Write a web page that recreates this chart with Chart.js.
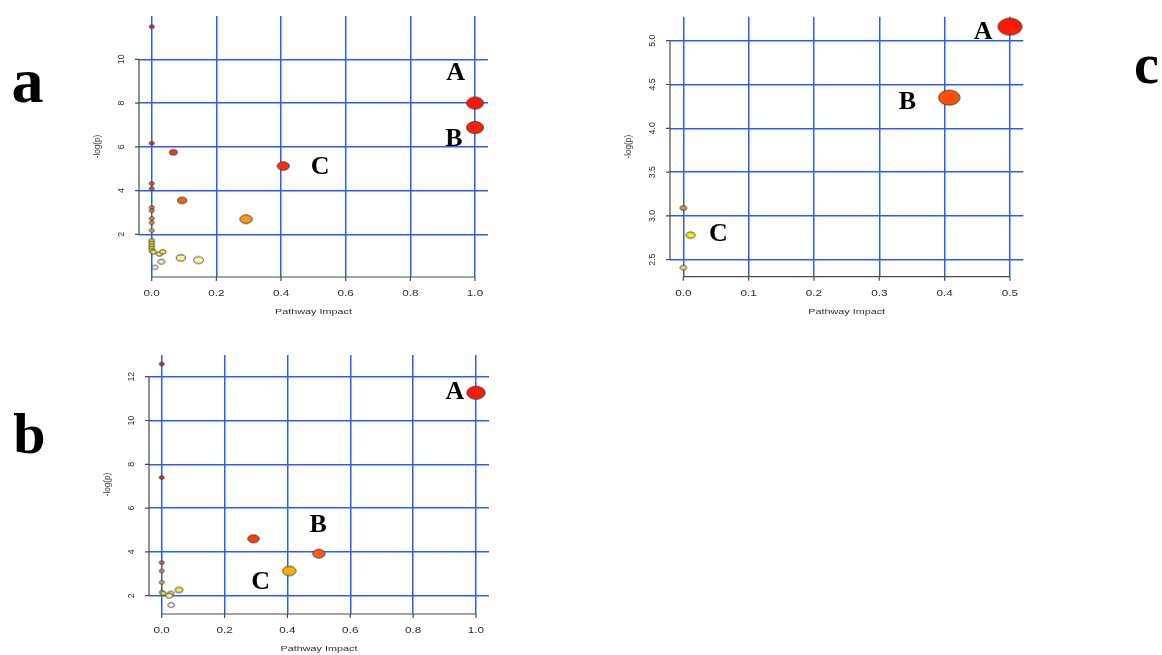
<!DOCTYPE html>
<html>
<head>
<meta charset="utf-8">
<title>Pathway impact bubble plots</title>
<script src="https://cdn.jsdelivr.net/npm/chart.js@4.4.0/dist/chart.umd.min.js"></script>
<style>
  html, body { margin: 0; padding: 0; background: #ffffff; }
  #wrap { position: relative; width: 1162px; height: 655px; overflow: hidden; background: #ffffff; }
  #wrap canvas { position: absolute; left: 0; top: 0; }
</style>
</head>
<body>
<div id="wrap">
  <canvas id="chartA" width="1162" height="655"></canvas>
  <canvas id="chartB" width="1162" height="655"></canvas>
  <canvas id="chartC" width="1162" height="655"></canvas>
</div>
<script>
// ---------- panel a ----------
const impactA = [0, 0, 0.067, 0, 0, 0.407, 1.0, 1.0, 0.094, 0, 0, 0, 0, 0.292, 0,
                 0, 0, 0, 0, 0, 0.005, 0.024, 0.034, 0.090, 0.145, 0.030, 0.010];
const logpA   = [11.49, 6.16, 5.75, 4.32, 4.09, 5.12, 8.00, 6.88, 3.55, 3.23, 3.08, 2.72, 2.53, 2.69, 2.17,
                 1.71, 1.59, 1.47, 1.36, 1.25, 1.19, 1.10, 1.20, 0.92, 0.82, 0.75, 0.49];
const sizeA   = [2.5, 2.5, 4.0, 2.5, 2.5, 6.0, 8.5, 8.5, 4.5, 2.5, 2.5, 2.5, 2.5, 6.2, 2.5,
                 2.8, 2.8, 2.8, 2.8, 2.8, 3.0, 3.2, 3.2, 4.5, 5.0, 3.5, 3.0];
const xTicksA = [0, 0.2, 0.4, 0.6, 0.8, 1.0];
const xTickLabelsA = ['0.0', '0.2', '0.4', '0.6', '0.8', '1.0'];
const yTicksA = [2, 4, 6, 8, 10];
const yTickLabelsA = ['2', '4', '6', '8', '10'];

// ---------- panel b ----------
const impactB = [0, 0, 1.0, 0.292, 0.500, 0.406, 0, 0, 0, 0, 0.005, 0.029, 0.024, 0.055, 0.030];
const logpB   = [12.58, 7.40, 11.27, 4.60, 3.92, 3.13, 3.51, 3.13, 2.61, 2.16, 2.11, 2.10, 2.00, 2.26, 1.57];
const sizeB   = [2.5, 2.5, 9.2, 5.7, 6.2, 6.7, 2.5, 2.5, 2.5, 2.5, 2.8, 3.3, 3.5, 4.0, 3.3];
const xTicksB = [0, 0.2, 0.4, 0.6, 0.8, 1.0];
const xTickLabelsB = ['0.0', '0.2', '0.4', '0.6', '0.8', '1.0'];
const yTicksB = [2, 4, 6, 8, 10, 12];
const yTickLabelsB = ['2', '4', '6', '8', '10', '12'];

// ---------- panel c ----------
const impactC = [0.500, 0.407, 0, 0.011, 0];
const logpC   = [5.16, 4.35, 3.09, 2.78, 2.41];
const sizeC   = [12.0, 10.7, 3.3, 4.4, 3.3];
const xTicksC = [0, 0.1, 0.2, 0.3, 0.4, 0.5];
const xTickLabelsC = ['0.0', '0.1', '0.2', '0.3', '0.4', '0.5'];
const yTicksC = [2.5, 3.0, 3.5, 4.0, 4.5, 5.0];
const yTickLabelsC = ['2.5', '3.0', '3.5', '4.0', '4.5', '5.0'];

// heat-scale fills, one per pathway
const fillA = ['#ff1a00', '#f52a00', '#f23c0c', '#f04a10', '#f05010', '#ff3000', '#ff1500', '#ff2000', '#f06410',
               '#f07810', '#f08010', '#f09010', '#f0a010', '#f49a10', '#e8b810',
               '#e8d820', '#ecdc24', '#eee228', '#f0e62c', '#f0e830', '#f5ee30', '#f8f060', '#f5ef30',
               '#fbf590', '#fdf8a8', '#fefad0', '#ffffff'];
const fillB = ['#ff1a00', '#f52800', '#ff1a00', '#ff3a00', '#ff5a10', '#ffb000', '#f06a10', '#f08c10',
               '#f0c010', '#f0e020', '#f2e830', '#f6ee60', '#fbf8b8', '#f2e840', '#fffff5'];
const fillC = ['#ff1a00', '#ff5000', '#f29a12', '#f8ee00', '#f5ec50'];

// ---------- styling ----------
const W = 1162, H = 655;
const GRID = 'rgb(40, 92, 255)';
const AXIS = '#4a4a4a';
const TEXT = '#2e2e2e';
const ASPECT = 1.42;      // bubbles are wider than tall
const TICK = 4;

function ellipseSprite(rx, fill) {
  const ry = rx / ASPECT;
  const c = document.createElement('canvas');
  const w = Math.ceil(2 * rx + 3), h = Math.ceil(2 * ry + 3);
  c.width = w; c.height = h;
  const g = c.getContext('2d');
  g.beginPath();
  g.ellipse(w / 2, h / 2, rx, ry, 0, 0, Math.PI * 2);
  g.fillStyle = fill;
  g.fill();
  g.lineWidth = 0.9;
  g.strokeStyle = '#3a3a3a';
  g.stroke();
  return c;
}

function drawText(ctx, txt, x, y, opts) {
  ctx.save();
  ctx.translate(x, y);
  ctx.scale(opts.sx || 1, 1);
  if (opts.rot) ctx.rotate(opts.rot);
  ctx.font = opts.font;
  ctx.fillStyle = opts.color || TEXT;
  ctx.textAlign = opts.align || 'center';
  ctx.textBaseline = opts.baseline || 'middle';
  ctx.fillText(txt, 0, 0);
  ctx.restore();
}

const panels = [
  {
    id: 'chartA', impact: impactA, logp: logpA, size: sizeA, fill: fillA,
    xTicks: xTicksA, xLabels: xTickLabelsA, yTicks: yTicksA, yLabels: yTickLabelsA,
    area: { left: 139, top: 16, right: 488, bottom: 277 },
    xRange: [-0.0393, 1.0402], yRange: [0.048, 11.979],
    notes: [['A', 0.940, 9.45], ['B', 0.935, 6.43], ['C', 0.521, 5.14]],
    tag: { text: 'a', x: 27.5, base: 102, size: 64 }
  },
  {
    id: 'chartB', impact: impactB, logp: logpB, size: sizeB, fill: fillB,
    xTicks: xTicksB, xLabels: xTickLabelsB, yTicks: yTicksB, yLabels: yTickLabelsB,
    area: { left: 149, top: 355, right: 489, bottom: 614 },
    xRange: [-0.0404, 1.0414], yRange: [1.164, 12.991],
    notes: [['A', 0.933, 11.36], ['B', 0.498, 5.31], ['C', 0.315, 2.72]],
    tag: { text: 'b', x: 29.5, base: 453, size: 58 }
  },
  {
    id: 'chartC', impact: impactC, logp: logpC, size: sizeC, fill: fillC,
    xTicks: xTicksC, xLabels: xTickLabelsC, yTicks: yTicksC, yLabels: yTickLabelsC,
    area: { left: 670, top: 16.7, right: 1023.3, bottom: 276.7 },
    xRange: [-0.0204, 0.5204], yRange: [2.306, 5.274],
    notes: [['A', 0.459, 5.114], ['B', 0.343, 4.315], ['C', 0.0536, 2.808]],
    tag: { text: 'c', x: 1146.5, base: 83, size: 56 }
  }
];

function axesPlugin(p) {
  return {
    id: 'baseAxes',
    afterDraw(chart) {
      const ctx = chart.ctx, xs = chart.scales.x, ys = chart.scales.y, a = chart.chartArea;
      ctx.save();
      ctx.strokeStyle = AXIS;
      ctx.lineWidth = 1.2;
      ctx.beginPath();
      // x axis line and tick marks, spanning first to last tick
      const xa = xs.getPixelForValue(p.xTicks[0]);
      const xb = xs.getPixelForValue(p.xTicks[p.xTicks.length - 1]);
      ctx.moveTo(xa, a.bottom); ctx.lineTo(xb, a.bottom);
      p.xTicks.forEach(v => {
        const px = xs.getPixelForValue(v);
        ctx.moveTo(px, a.bottom); ctx.lineTo(px, a.bottom + TICK);
      });
      // y axis line and tick marks
      const ya = ys.getPixelForValue(p.yTicks[0]);
      const yb = ys.getPixelForValue(p.yTicks[p.yTicks.length - 1]);
      ctx.moveTo(a.left, ya); ctx.lineTo(a.left, yb);
      p.yTicks.forEach(v => {
        const py = ys.getPixelForValue(v);
        ctx.moveTo(a.left, py); ctx.lineTo(a.left - TICK, py);
      });
      ctx.stroke();

      // tick labels
      p.xTicks.forEach((v, i) => {
        drawText(ctx, p.xLabels[i], xs.getPixelForValue(v), a.bottom + 16.5,
          { font: '8.4px "Liberation Sans", Arial, sans-serif', sx: 1.4 });
      });
      p.yTicks.forEach((v, i) => {
        drawText(ctx, p.yLabels[i], a.left - 17.5, ys.getPixelForValue(v),
          { font: '8.8px "Liberation Sans", Arial, sans-serif', rot: -Math.PI / 2 });
      });

      // axis titles
      drawText(ctx, 'Pathway Impact', (a.left + a.right) / 2, a.bottom + 35,
        { font: '7.9px "Liberation Sans", Arial, sans-serif', sx: 1.37 });
      drawText(ctx, '-log(p)', a.left - 41, (a.top + a.bottom) / 2,
        { font: '8.2px "Liberation Sans", Arial, sans-serif', rot: -Math.PI / 2 });

      // pathway letters
      p.notes.forEach(n => {
        drawText(ctx, n[0], xs.getPixelForValue(n[1]), ys.getPixelForValue(n[2]) + 8.6,
          { font: 'bold 26px "Liberation Serif", "Times New Roman", serif', color: '#000', baseline: 'alphabetic' });
      });

      // panel tag
      drawText(ctx, p.tag.text, p.tag.x, p.tag.base,
        { font: 'bold ' + p.tag.size + 'px "Liberation Serif", "Times New Roman", serif', color: '#000', baseline: 'alphabetic' });
      ctx.restore();
    }
  };
}

panels.forEach(p => {
  const sprites = p.size.map((r, i) => ellipseSprite(r, p.fill[i]));
  const points = p.impact.map((x, i) => ({ x: x, y: p.logp[i], r: p.size[i] }));
  const tickList = arr => arr.map(v => ({ value: v }));
  new Chart(document.getElementById(p.id), {
    type: 'bubble',
    data: {
      datasets: [{
        data: points,
        pointStyle: ctx => sprites[ctx.dataIndex],
        backgroundColor: p.fill,
        borderWidth: 0,
        clip: false
      }]
    },
    options: {
      responsive: false,
      animation: false,
      events: [],
      layout: {
        padding: { left: p.area.left, top: p.area.top, right: W - p.area.right, bottom: H - p.area.bottom }
      },
      plugins: { legend: { display: false }, tooltip: { enabled: false } },
      scales: {
        x: {
          type: 'linear', min: p.xRange[0], max: p.xRange[1],
          afterBuildTicks: s => { s.ticks = tickList(p.xTicks); },
          afterFit: s => { s.height = 0; },
          ticks: { display: false },
          grid: { color: GRID, lineWidth: 1.5, drawTicks: false },
          border: { display: false }
        },
        y: {
          type: 'linear', min: p.yRange[0], max: p.yRange[1],
          afterBuildTicks: s => { s.ticks = tickList(p.yTicks); },
          afterFit: s => { s.width = 0; },
          ticks: { display: false },
          grid: { color: GRID, lineWidth: 1.5, drawTicks: false },
          border: { display: false }
        }
      }
    },
    plugins: [axesPlugin(p)]
  });
});
</script>
</body>
</html>
